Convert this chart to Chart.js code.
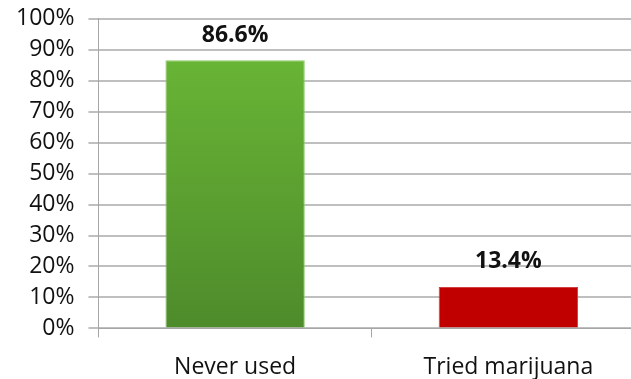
<!DOCTYPE html>
<html>
<head>
<meta charset="utf-8">
<script src="https://cdn.jsdelivr.net/npm/chart.js@4"></script>
<style>
  html, body { margin: 0; padding: 0; background: #fff; overflow: hidden; }
  #wrap { width: 645px; height: 379px; overflow: hidden; }
  #mychart { display: block; margin-top: -9px; }
</style>
</head>
<body>
<div id="wrap"><canvas id="mychart" width="645" height="406"></canvas></div>
<script>
var categories = ["Never used", "Tried marijuana"];
var percents = [86.6, 13.4];
var yTicks = [0, 10, 20, 30, 40, 50, 60, 70, 80, 90, 100];

var fontFamily = "'Open Sans', sans-serif";

// bar labels drawn above each bar
var valueLabels = {
    id: "valueLabels",
    afterDatasetsDraw: function(chart) {
        var ctx = chart.ctx;
        var meta = chart.getDatasetMeta(0);
        ctx.save();
        ctx.font = "bold 23px " + fontFamily;
        ctx.fillStyle = "#111";
        ctx.textAlign = "center";
        ctx.textBaseline = "middle";
        meta.data.forEach(function(bar, i) {
            ctx.fillText(percents[i].toFixed(1) + "%", bar.x, bar.y - 25);
        });
        ctx.restore();
    }
};

function greenFill(context) {
    var area = context.chart.chartArea;
    if (!area) return "#5fa531";
    if (context.dataIndex !== 0) return "#c00000";
    var g = context.chart.ctx.createLinearGradient(0, area.top, 0, area.bottom);
    g.addColorStop(0, "#6cbb37");
    g.addColorStop(1, "#4e8b2b");
    return g;
}

window.addEventListener("load", function() {
    var canvas = document.getElementById("mychart").getContext("2d");
    new Chart(canvas, {
        type: "bar",
        data: {
            labels: categories,
            datasets: [{
                data: percents,
                backgroundColor: greenFill,
                borderColor: ["#8cc96a", "#d04040"],
                borderWidth: 1,
                categoryPercentage: 1,
                barPercentage: 0.51
            }]
        },
        plugins: [valueLabels],
        options: {
            responsive: false,
            animation: false,
            layout: { padding: { top: 0, left: 2, right: 0, bottom: 0 } },
            plugins: { legend: { display: false }, tooltip: { enabled: false } },
            scales: {
                x: {
                    grid: { drawOnChartArea: false, color: "#a6a6a6", tickLength: 9 },
                    border: { color: "#a6a6a6", width: 1 },
                    ticks: { color: "#111", padding: 16, font: { family: fontFamily, size: 23 } }
                },
                y: {
                    min: 0,
                    max: 100,
                    afterBuildTicks: function(axis) {
                        axis.ticks = yTicks.map(function(v) { return { value: v }; });
                    },
                    grid: { color: "#bfbfbf", lineWidth: 2, tickLength: 10 },
                    border: { color: "#a6a6a6", width: 1 },
                    ticks: {
                        color: "#111",
                        padding: 14,
                        autoSkip: false,
                        font: { family: fontFamily, size: 23 },
                        callback: function(v) { return v + "%"; }
                    }
                }
            }
        }
    });
});
</script>
</body>
</html>
